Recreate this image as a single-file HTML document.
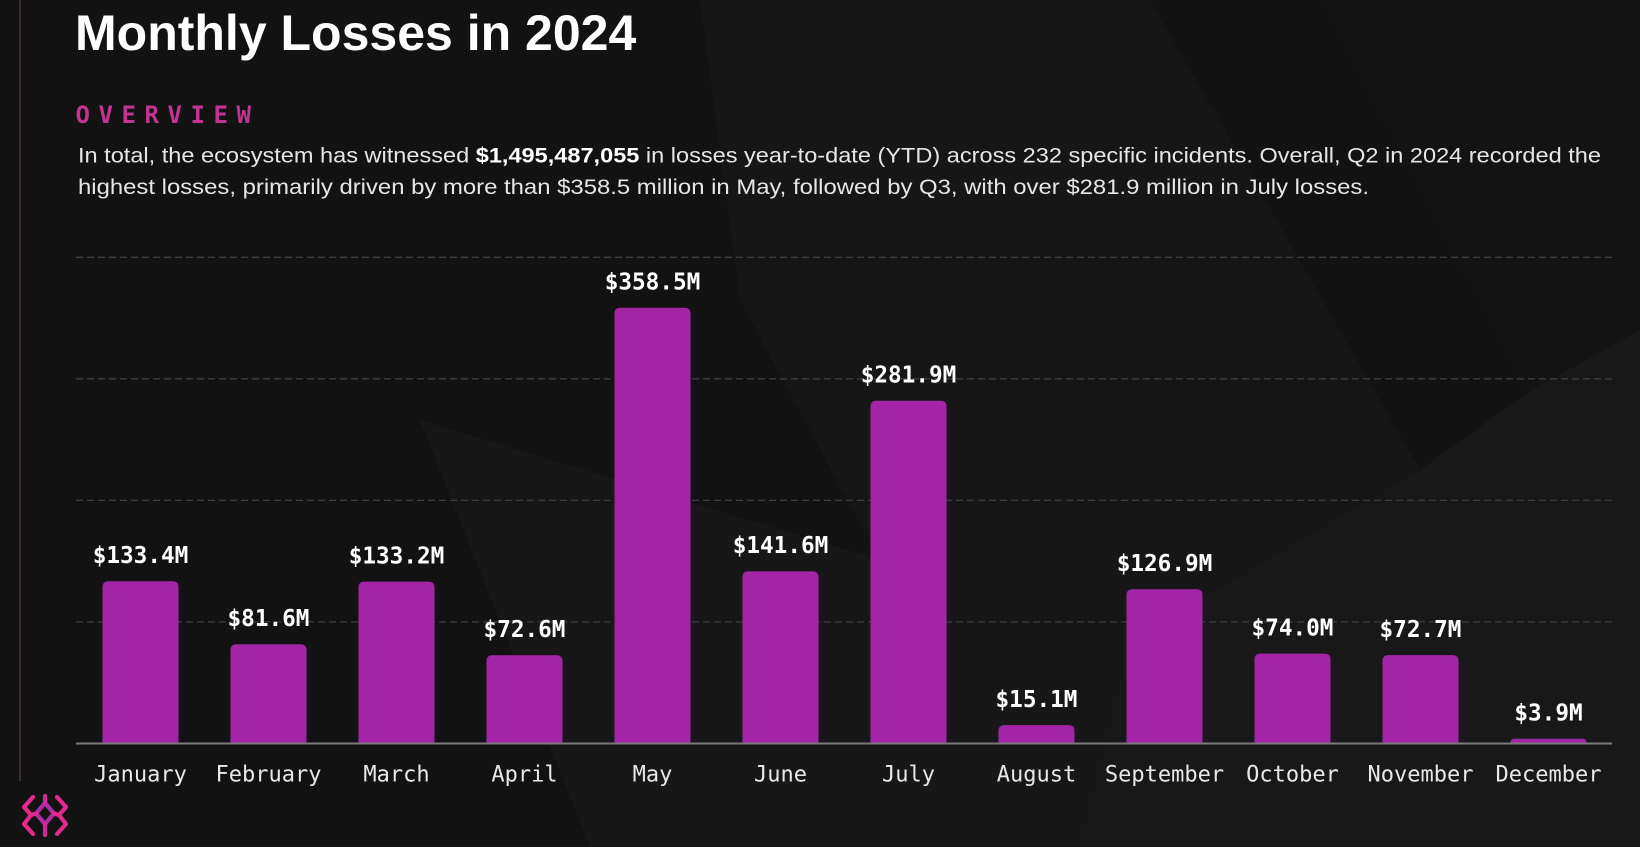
<!DOCTYPE html>
<html>
<head>
<meta charset="utf-8">
<style>
  html, body { margin: 0; padding: 0; background: #121212; }
  body { width: 1640px; height: 847px; overflow: hidden; }
  svg { display: block; }
</style>
</head>
<body>
<svg width="1640" height="847" viewBox="0 0 1640 847" xmlns="http://www.w3.org/2000/svg">
  <!-- background -->
  <rect x="0" y="0" width="1640" height="847" fill="#121212"/>
  <polygon points="700,0 1150,0 1420,470 1130,640 880,560 740,300" fill="#161616"/>
  <polygon points="1320,0 1640,0 1640,330 1527,393" fill="#131313"/>
  <polygon points="1527,393 1640,330 1640,847 1080,847 1130,640 1420,470" fill="#181818"/>
  <polygon points="420,420 880,560 1130,640 1080,847 590,847" fill="#171717"/>

  <!-- left vertical line -->
  <line x1="20" y1="0" x2="20" y2="781" stroke="#3e2a3c" stroke-width="2"/>

  <!-- title -->
  <text x="75" y="50" font-family="'Liberation Sans', Arial, sans-serif" font-weight="bold" font-size="50" fill="#ffffff">Monthly Losses in 2024</text>

  <!-- overview label -->
  <text x="75.5 98.5 121.5 144.5 167.5 190.5 213.5 236.5" y="123" font-family="'DejaVu Sans Mono', 'Liberation Mono', monospace" font-weight="bold" font-size="24" fill="#c13590">OVERVIEW</text>

  <!-- paragraph -->
  <text x="78" y="162.5" font-family="'Liberation Sans', 'DejaVu Sans', sans-serif" font-size="21" fill="#e6e6e6" textLength="1523" lengthAdjust="spacingAndGlyphs">In total, the ecosystem has witnessed <tspan font-weight="bold" fill="#ffffff">$1,495,487,055</tspan> in losses year-to-date (YTD) across 232 specific incidents. Overall, Q2 in 2024 recorded the</text>
  <text x="78" y="194" font-family="'Liberation Sans', 'DejaVu Sans', sans-serif" font-size="21" fill="#e6e6e6" textLength="1291" lengthAdjust="spacingAndGlyphs">highest losses, primarily driven by more than $358.5 million in May, followed by Q3, with over $281.9 million in July losses.</text>

  <!-- gridlines -->
  <g stroke="#3c3c3c" stroke-width="1.3" stroke-dasharray="7 4">
    <line x1="76" y1="257.3" x2="1612" y2="257.3"/>
    <line x1="76" y1="378.8" x2="1612" y2="378.8"/>
    <line x1="76" y1="500.4" x2="1612" y2="500.4"/>
    <line x1="76" y1="621.9" x2="1612" y2="621.9"/>
  </g>

  <!-- bars -->
  <g fill="#a424a8">
    <path d="M102.5,743.5 V587.3 Q102.5,581.3 108.5,581.3 H172.5 Q178.5,581.3 178.5,587.3 V743.5 Z"/>
    <path d="M230.5,743.5 V650.3 Q230.5,644.3 236.5,644.3 H300.5 Q306.5,644.3 306.5,650.3 V743.5 Z"/>
    <path d="M358.5,743.5 V587.6 Q358.5,581.6 364.5,581.6 H428.5 Q434.5,581.6 434.5,587.6 V743.5 Z"/>
    <path d="M486.5,743.5 V661.3 Q486.5,655.3 492.5,655.3 H556.5 Q562.5,655.3 562.5,661.3 V743.5 Z"/>
    <path d="M614.5,743.5 V313.7 Q614.5,307.7 620.5,307.7 H684.5 Q690.5,307.7 690.5,313.7 V743.5 Z"/>
    <path d="M742.5,743.5 V577.4 Q742.5,571.4 748.5,571.4 H812.5 Q818.5,571.4 818.5,577.4 V743.5 Z"/>
    <path d="M870.5,743.5 V406.8 Q870.5,400.8 876.5,400.8 H940.5 Q946.5,400.8 946.5,406.8 V743.5 Z"/>
    <path d="M998.5,743.5 V731.1 Q998.5,725.1 1004.5,725.1 H1068.5 Q1074.5,725.1 1074.5,731.1 V743.5 Z"/>
    <path d="M1126.5,743.5 V595.2 Q1126.5,589.2 1132.5,589.2 H1196.5 Q1202.5,589.2 1202.5,595.2 V743.5 Z"/>
    <path d="M1254.5,743.5 V659.6 Q1254.5,653.6 1260.5,653.6 H1324.5 Q1330.5,653.6 1330.5,659.6 V743.5 Z"/>
    <path d="M1382.5,743.5 V661.1 Q1382.5,655.1 1388.5,655.1 H1452.5 Q1458.5,655.1 1458.5,661.1 V743.5 Z"/>
    <path d="M1510.5,743.5 V742.8 Q1510.5,738.8 1514.5,738.8 H1582.5 Q1586.5,738.8 1586.5,742.8 V743.5 Z"/>
  </g>

  <!-- axis -->
  <line x1="76" y1="743.5" x2="1612" y2="743.5" stroke="#7a7a7a" stroke-width="2"/>

  <!-- value labels -->
  <g font-family="'DejaVu Sans Mono', 'Liberation Mono', monospace" font-weight="bold" font-size="22.7" fill="#ffffff" text-anchor="middle">
    <text x="140.5" y="563">$133.4M</text>
    <text x="268.5" y="626">$81.6M</text>
    <text x="396.5" y="563.3">$133.2M</text>
    <text x="524.5" y="637">$72.6M</text>
    <text x="652.5" y="289.5">$358.5M</text>
    <text x="780.5" y="553">$141.6M</text>
    <text x="908.5" y="382.5">$281.9M</text>
    <text x="1036.5" y="707">$15.1M</text>
    <text x="1164.5" y="571">$126.9M</text>
    <text x="1292.5" y="635.3">$74.0M</text>
    <text x="1420.5" y="636.8">$72.7M</text>
    <text x="1548.5" y="720.5">$3.9M</text>
  </g>

  <!-- month labels -->
  <g font-family="'DejaVu Sans Mono', 'Liberation Mono', monospace" font-size="22" fill="#e8e8e8" text-anchor="middle">
    <text x="140.5" y="781.7">January</text>
    <text x="268.5" y="781.7">February</text>
    <text x="396.5" y="781.7">March</text>
    <text x="524.5" y="781.7">April</text>
    <text x="652.5" y="781.7">May</text>
    <text x="780.5" y="781.7">June</text>
    <text x="908.5" y="781.7">July</text>
    <text x="1036.5" y="781.7">August</text>
    <text x="1164.5" y="781.7">September</text>
    <text x="1292.5" y="781.7">October</text>
    <text x="1420.5" y="781.7">November</text>
    <text x="1548.5" y="781.7">December</text>
  </g>

  <!-- logo -->
  <g transform="translate(22,795)" fill="none" stroke-width="4.2" stroke-linecap="round" stroke-linejoin="round">
    <polyline points="11,2 2,12 9,20 2,29 11,39" stroke="#e4288c"/>
    <polyline points="35,2 44,12 37,20 44,29 35,39" stroke="#e4288c"/>
    <polygon points="23,8 32,18.5 23,29 14,18.5" stroke="#b02aa8"/>
    <line x1="23" y1="1" x2="23" y2="8" stroke="#d0289a"/>
    <line x1="23" y1="29" x2="23" y2="40" stroke="#d0289a"/>
    <line x1="9" y1="20" x2="14" y2="18.5" stroke="#e4288c"/>
    <line x1="37" y1="20" x2="32" y2="18.5" stroke="#e4288c"/>
  </g>
</svg>
</body>
</html>
